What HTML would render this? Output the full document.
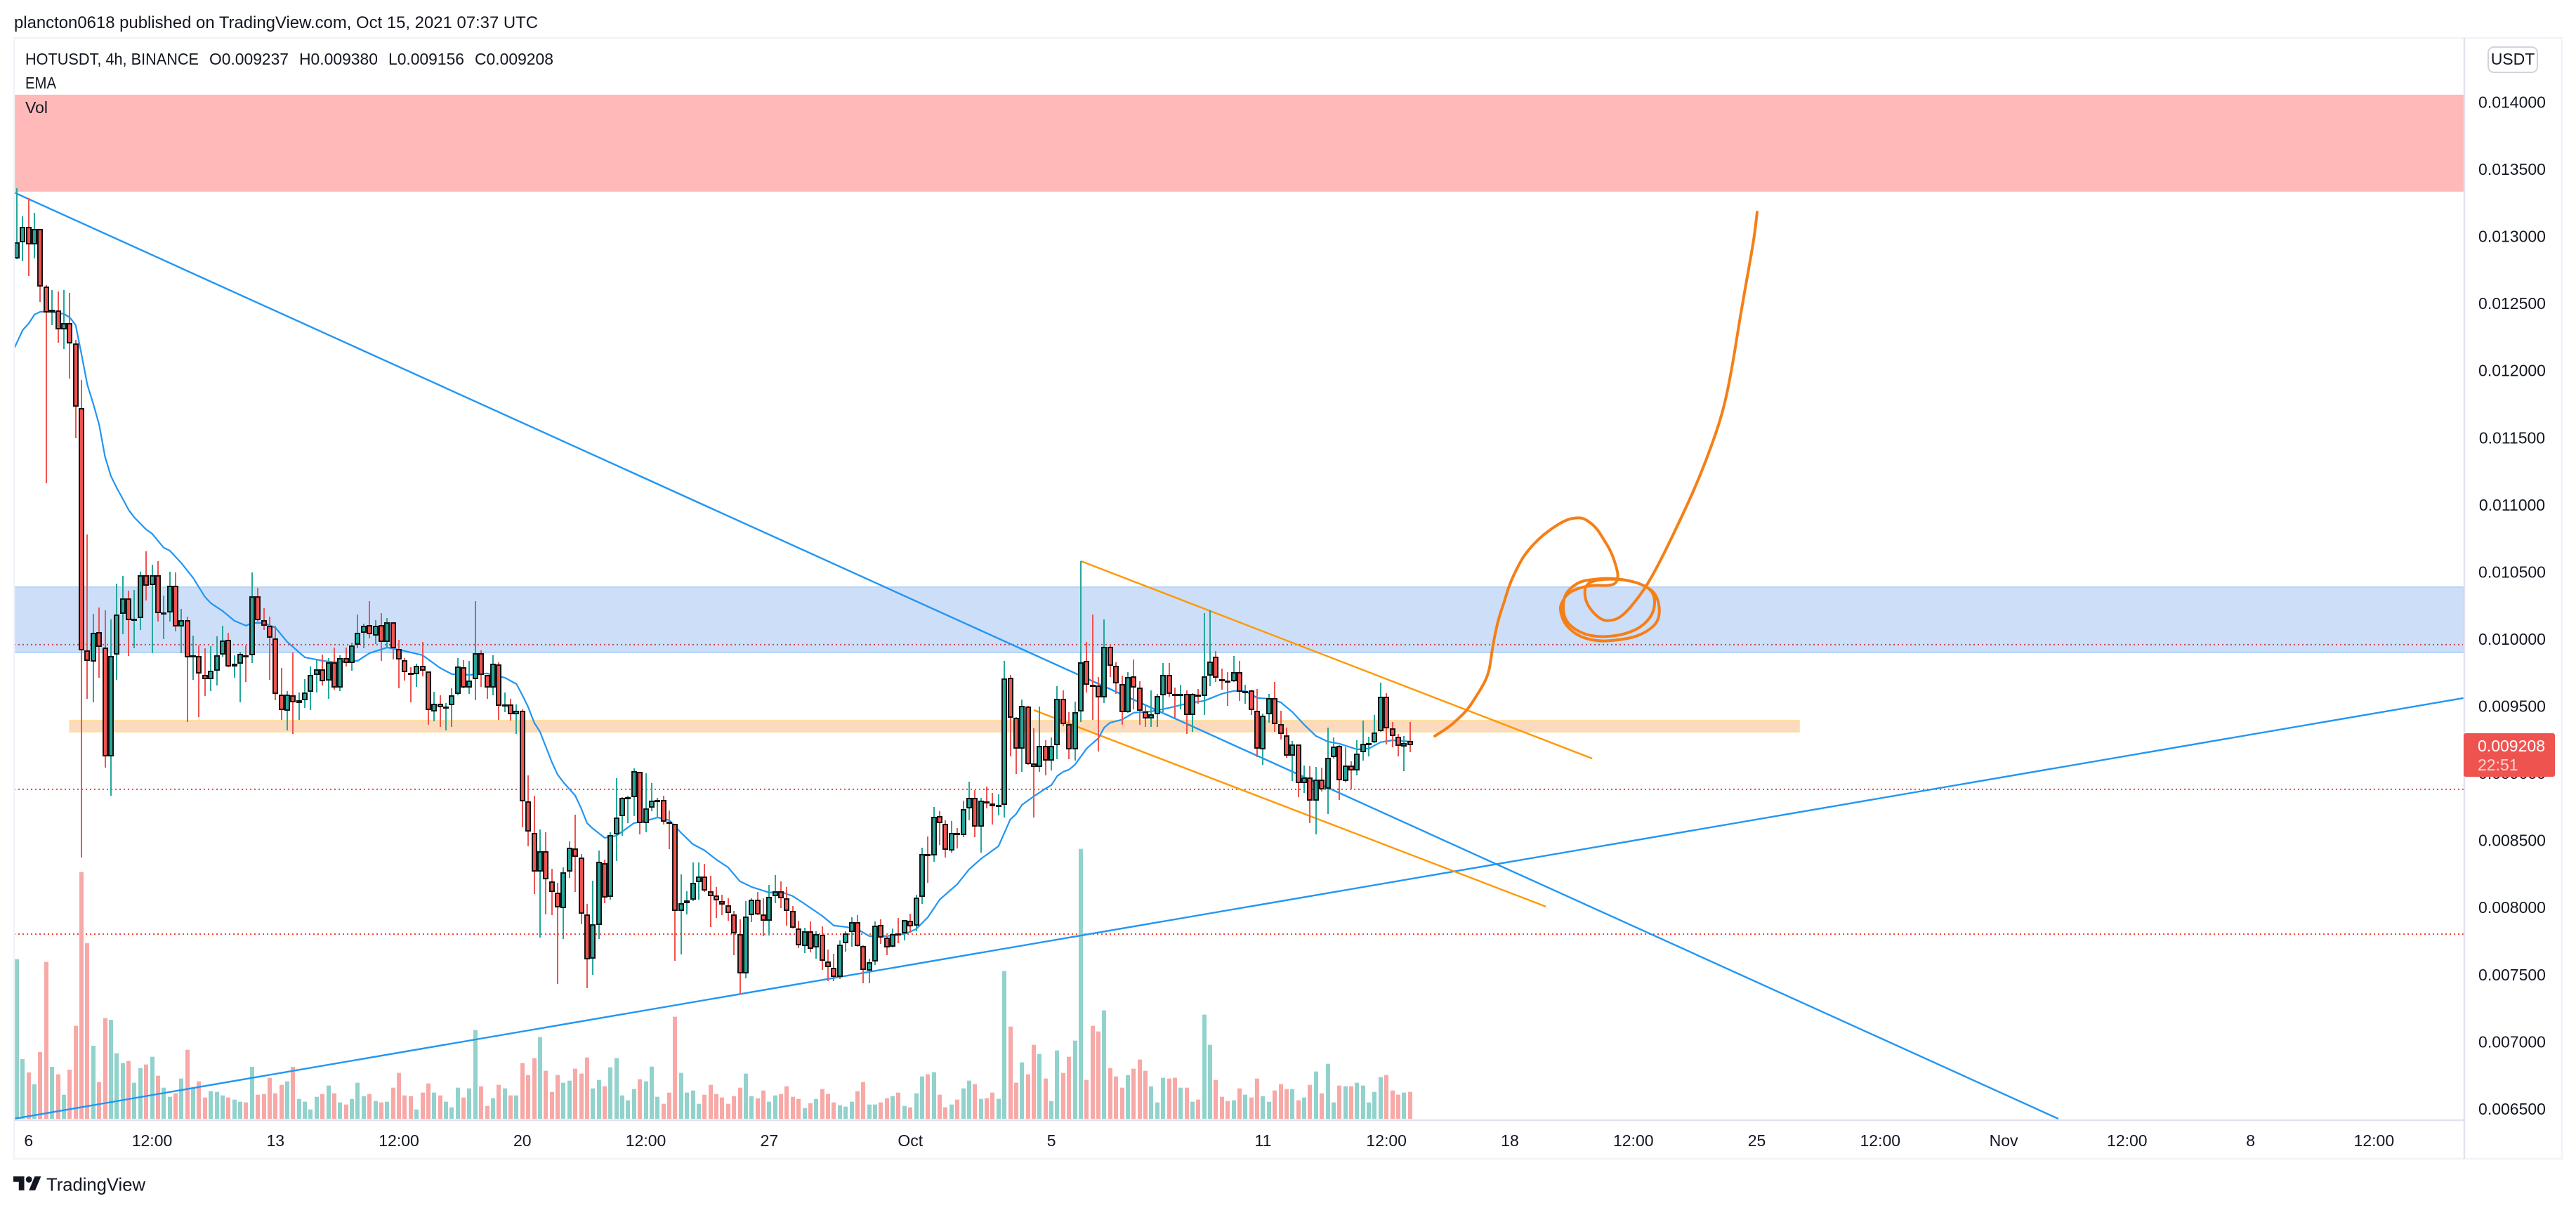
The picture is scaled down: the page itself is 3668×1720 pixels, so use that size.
<!DOCTYPE html>
<html lang="en">
<head>
<meta charset="utf-8">
<title>HOTUSDT 4h chart</title>
<style>
html,body{margin:0;padding:0;background:#fff;width:3668px;height:1720px;overflow:hidden}
svg{display:block}
text{font-family:"Liberation Sans",sans-serif;fill:#131722}
</style>
</head>
<body>
<svg id="chart" xmlns="http://www.w3.org/2000/svg" width="3668" height="1720" viewBox="0 0 3668 1720">
  <defs><clipPath id="plot-clip"><rect x="21" y="55" width="3487" height="1539"/></clipPath></defs>
  <rect x="0" y="0" width="3668" height="1720" fill="#ffffff"/>
  <text x="20" y="40" font-size="24" textLength="746" lengthAdjust="spacingAndGlyphs">plancton0618 published on TradingView.com, Oct 15, 2021 07:37 UTC</text>
  <g id="plot" clip-path="url(#plot-clip)"></g>
  <path id="brush" fill="none" stroke="#f57f17" stroke-width="4" stroke-linejoin="round" stroke-linecap="round" data-points="2043,1048 2061,1037 2077,1023 2090,1010 2103,990 2115,970 2121,953 2124,930 2128,907 2134,880 2142,857 2149,833 2161,807 2172,788 2191,767 2210,752 2230,740 2245,737 2256,738 2272,750 2283,767 2295,787 2303,812 2304,823 2300,832 2287,834 2268,833 2249,837 2233,844 2224,857 2221,867 2226,885 2237,898 2253,908 2276,913 2298,912 2325,908 2344,900 2360,887 2364,868 2358,845 2341,833 2318,826 2291,823 2268,825 2249,828 2233,840 2226,853 2226,877 2237,893 2260,905 2287,907 2314,903 2337,893 2352,877 2357,860 2354,843 2341,833 2318,826 2291,824 2268,827 2260,832 2256,840 2258,857 2268,872 2281,883 2293,884 2306,880 2320,867 2341,840 2360,807 2388,750 2417,687 2440,627 2455,580 2467,520 2478,450 2490,383 2498,337 2502,302"/>
  <rect x="20" y="54" width="3628" height="1596" fill="none" stroke="#f0f3fa" stroke-width="2.5"/>
  <line x1="3509" y1="54" x2="3509" y2="1650" stroke="#e0e3eb" stroke-width="2.5"/>
  <line x1="20" y1="1595" x2="3509" y2="1595" stroke="#e0e3eb" stroke-width="2.5"/>
  <g id="price-axis"></g>
  <g id="time-axis"></g>
  <rect x="3543" y="67" width="70" height="36" rx="8" fill="#ffffff" stroke="#d1d4dc" stroke-width="2"/>
  <text x="3578" y="92" font-size="23" text-anchor="middle">USDT</text>
  <rect x="3508" y="1044" width="130" height="62" rx="3" fill="#ef5350"/>
  <text x="3528" y="1070" font-size="23" textLength="96" style="fill:#ffffff">0.009208</text>
  <text x="3528" y="1097" font-size="23" style="fill:#fbd4d3">22:51</text>
  <g>
    <text x="36" y="92" font-size="23" textLength="247" lengthAdjust="spacingAndGlyphs">HOTUSDT, 4h, BINANCE</text>
    <text x="298" y="92" font-size="23" textLength="113" lengthAdjust="spacingAndGlyphs">O0.009237</text>
    <text x="426" y="92" font-size="23" textLength="112" lengthAdjust="spacingAndGlyphs">H0.009380</text>
    <text x="553" y="92" font-size="23" textLength="108" lengthAdjust="spacingAndGlyphs">L0.009156</text>
    <text x="676" y="92" font-size="23" textLength="112" lengthAdjust="spacingAndGlyphs">C0.009208</text>
    <text x="36" y="126" font-size="23" textLength="44" lengthAdjust="spacingAndGlyphs">EMA</text>
    <text x="36" y="161" font-size="23" textLength="32" lengthAdjust="spacingAndGlyphs">Vol</text>
  </g>
  <g transform="translate(19 1670.5)">
    <path transform="scale(1.11)" fill="#131722" d="M14 22H7V11H0V4h14v18zM28 22h-8l7.5-18h8L28 22zM20 4a4 4 0 1 1 0 8 4 4 0 0 1 0-8z"/>
    <text x="47" y="25" font-size="26" textLength="141" lengthAdjust="spacingAndGlyphs">TradingView</text>
  </g>
</svg>
<script>
// Prices in millionths of a USDT; one entry per 4h bar.
const openPrices = [
12833,12954,13069,12938,13053,12624,12431,12446,12305,12352,
12201,11719,9914,9830,10050,9935,9124,9883,10186,10301,
10139,10155,10474,10400,10474,10191,10197,10395,10092,10139,
9872,9872,9731,9700,9763,9883,9993,9794,9815,9878,
9878,10317,10139,10097,10003,9585,9464,9579,9522,9543,
9605,9731,9773,9689,9825,9637,9857,9820,9956,10045,
10102,10024,10102,9977,10123,9925,9841,9747,9736,9799,
9757,9459,9517,9490,9506,9590,9789,9637,9700,9893,
9731,9637,9810,9501,9511,9438,9464,8789,8554,8266,
8418,8193,8109,7994,8266,8439,8371,7947,7618,7869,
8329,8078,8543,8679,8816,8821,9009,8627,8742,8795,
8800,8638,8622,7973,8031,8057,8187,8229,8120,8088,
8047,8015,7947,7800,7507,7942,8057,7947,7900,8083,
8120,8067,7973,7842,7711,7821,7700,7795,7597,7550,
7481,7732,7816,7889,7711,7529,7597,7869,7774,7706,
7806,7806,7900,7863,8078,8397,8387,8679,8622,8423,
8554,8538,8737,8816,8601,8789,8774,8758,8763,9710,
9412,9182,9496,9072,9046,9203,9093,9208,9553,9365,
9177,9459,9836,9658,9653,9564,9940,9799,9663,9454,
9720,9637,9459,9407,9438,9579,9731,9590,9585,9590,
9433,9585,9574,9726,9867,9700,9689,9684,9752,9606,
9616,9464,9177,9438,9558,9365,9281,9129,9213,8925,
8967,8795,8951,8883,9119,9203,8941,9056,9019,9156,
9218,9229,9313,9569,9334,9271,9197,9237];
const highPrices = [
13356,13147,13284,13173,13053,12635,12598,12587,12598,12577,
12227,11929,10777,10186,10233,10212,10144,10411,10469,10359,
10364,10500,10652,10553,10579,10322,10500,10495,10223,10165,
10024,9951,9930,9946,10019,10097,10045,9878,9904,9951,
10495,10380,10228,10165,10097,9783,9611,9899,9600,9700,
9794,9846,9883,9857,9935,9878,9935,9972,10181,10113,
10280,10139,10191,10155,10123,9993,9857,9789,9815,9977,
9757,9605,9579,9522,9632,9857,9841,9836,10280,9914,
9731,9878,9825,9600,9553,9511,9475,8983,8831,8580,
8559,8287,8182,8297,8491,8690,8397,8025,8198,8423,
8355,8559,8962,8821,8831,9035,9009,8999,8925,8816,
8831,8721,8622,8245,8120,8334,8334,8324,8234,8151,
8094,8067,7973,7910,8047,8067,8114,8067,8167,8240,
8193,8151,8010,7900,7848,7895,7821,7858,7685,7654,
7753,7821,7926,7942,7716,7618,7895,7910,7790,7842,
7921,7905,7952,8094,8444,8528,8747,8716,8648,8643,
8590,8795,8936,8873,8816,8899,8852,8842,9836,9731,
9417,9548,9501,9334,9496,9245,9265,9648,9616,9454,
9532,10579,9977,10181,9715,10144,9961,9825,9726,9752,
9846,9684,9501,9616,9590,9820,9820,9637,9658,9616,
9595,9627,10191,10212,9909,9778,9752,9872,9836,9658,
9621,9627,9443,9590,9679,9464,9339,9239,9213,9056,
9051,9045,9040,9339,9265,9208,9192,9087,9245,9391,
9270,9433,9674,9595,9380,9292,9276,9380];
const lowPrices = [
12825,12813,12703,12833,12509,11159,12337,12206,12159,11939,
11494,8371,9553,9527,9710,9040,8831,9695,10034,9872,
9930,10066,10286,9893,10129,9998,10129,10055,9893,9380,
9695,9417,9574,9611,9653,9867,9789,9710,9527,9679,
9820,10129,10066,9695,9543,9396,9318,9292,9396,9485,
9469,9600,9653,9553,9621,9611,9794,9763,9930,9930,
10003,9961,9836,9940,9846,9632,9689,9527,9642,9720,
9360,9386,9344,9318,9344,9579,9632,9590,9543,9642,
9553,9579,9396,9454,9391,9292,8596,8455,8099,7774,
7947,7942,7429,7764,8219,8114,7874,7397,7497,7764,
8031,8057,8345,8533,8627,8679,8543,8559,8716,8664,
8617,8434,7602,7649,7947,8047,8057,8114,7853,7921,
7942,7900,7644,7350,7471,7889,7942,7785,7790,8031,
7994,7863,7842,7695,7659,7664,7618,7534,7450,7450,
7465,7670,7706,7706,7434,7434,7570,7727,7644,7700,
7732,7753,7811,7821,8025,8182,8339,8465,8371,8407,
8439,8523,8648,8523,8407,8737,8617,8685,8669,9124,
8993,9009,9061,8669,9009,8983,9019,9103,9349,9103,
9093,9380,9600,9396,9161,9522,9715,9590,9360,9449,
9475,9360,9344,9344,9344,9454,9569,9412,9475,9292,
9307,9517,9433,9647,9679,9621,9501,9679,9538,9517,
9433,9119,9061,9375,9307,9250,9114,8941,8821,8852,
8627,8543,8862,8695,9108,8800,8930,8878,8983,9093,
9124,9223,9307,9213,9192,9124,9014,9156];
const closePrices = [
12954,13069,12938,13053,12624,12431,12452,12305,12352,12201,
11730,9914,9836,10045,9940,9124,9872,10181,10301,10139,
10150,10474,10395,10474,10191,10196,10395,10092,10139,9862,
9877,9742,9700,9763,9878,9987,9794,9815,9888,9873,
10317,10139,10097,10008,9590,9469,9585,9527,9543,9600,
9731,9773,9684,9825,9637,9857,9820,9951,10045,10097,
10034,10097,9977,10123,9930,9846,9752,9742,9799,9763,
9469,9517,9490,9496,9579,9794,9637,9689,9893,9731,
9637,9815,9501,9511,9438,9464,8789,8564,8266,8418,
8209,8114,8000,8261,8444,8376,7952,7612,7874,8339,
8073,8538,8669,8816,8821,9014,8627,8737,8795,8800,
8638,8633,7973,8031,8052,8182,8229,8125,8083,8052,
8020,7957,7806,7507,7931,8057,7947,7900,8078,8120,
8067,7973,7848,7716,7821,7690,7800,7602,7555,7481,
7722,7806,7889,7711,7534,7591,7863,7774,7700,7800,
7801,7905,7858,8073,8397,8392,8674,8627,8428,8554,
8549,8732,8816,8601,8795,8784,8753,8763,9705,9412,
9182,9501,9067,9046,9203,9093,9203,9553,9365,9177,
9454,9825,9658,9653,9564,9940,9799,9668,9454,9715,
9637,9464,9407,9438,9574,9731,9590,9585,9590,9433,
9590,9579,9720,9830,9710,9695,9684,9752,9605,9611,
9469,9182,9428,9558,9365,9292,9129,9213,8925,8967,
8795,8951,8878,9114,9197,8946,9056,9019,9145,9218,
9223,9302,9569,9334,9276,9203,9223,9208];
// Volume per bar, arbitrary units.
const volumes = [
682,255,198,148,285,670,222,190,103,210,
397,1054,750,312,157,430,423,280,238,247,
154,217,232,265,184,133,94,109,172,295,
133,160,91,118,115,100,91,82,73,70,
222,103,106,175,109,145,160,222,85,73,
40,94,106,142,109,70,61,85,154,97,
106,76,70,73,133,196,100,97,40,112,
151,112,100,73,49,133,91,130,379,139,
55,88,145,130,100,100,238,187,259,349,
205,115,187,154,163,214,193,262,130,166,
139,220,259,100,79,127,169,160,223,94,
64,112,436,196,112,121,64,103,145,106,
91,64,97,133,193,97,88,121,73,100,
106,139,94,85,46,67,85,127,106,70,
58,52,73,118,157,61,61,70,88,97,
112,55,49,109,181,190,199,103,49,61,
82,130,163,148,85,88,112,85,631,394,
154,241,190,316,277,172,76,292,196,265,
334,1153,166,397,373,463,217,181,133,187,
214,253,205,139,70,175,172,175,133,133,
73,82,445,316,166,94,76,79,130,103,
91,172,97,73,121,148,127,127,79,91,
145,202,109,235,70,142,139,139,154,142,
70,115,178,187,121,103,112,115];
// EMA read at selected bars.
const emaBars = [-0.5,1,2,3,4,6,8,9,10,11,12,13,14,15,16,17,18,19,20,22,23,25,26,28,30,32,33,35,37,39,40,42,44,46,49,52,54,58,60,63,66,69,72,74,77,80,83,85,86,87,88,89,91,92,93,95,96,97,98,100,102,105,107,109,111,113,115,117,119,121,123,125,128,130,132,134,137,139,141,143,145,148,151,153,155,157,160,162,164,167,169,170,171,173,175,176,177,178,179,180,182,184,185,186,188,190,193,196,199,202,205,207,209,211,213,215,217,219,221,223,225,228,230,232,234,237];
const emaValues = [12159,12300,12347,12415,12436,12436,12420,12394,12337,12117,11892,11751,11594,11358,11212,11123,11044,10961,10903,10814,10783,10678,10657,10563,10453,10312,10265,10207,10134,10097,10118,10118,10082,9977,9862,9836,9825,9836,9893,9935,9909,9878,9783,9736,9731,9742,9710,9663,9579,9490,9375,9307,9082,8988,8930,8831,8737,8627,8585,8517,8533,8627,8643,8669,8648,8554,8470,8423,8355,8297,8193,8151,8109,8114,8083,8025,7936,7863,7853,7837,7785,7785,7800,7837,7926,8057,8172,8282,8360,8455,8653,8695,8763,8826,8884,8910,8978,9009,9025,9061,9182,9260,9339,9375,9397,9449,9459,9485,9517,9538,9590,9611,9611,9559,9553,9527,9454,9360,9276,9234,9218,9176,9182,9229,9244,9234];
const priceTicks = [14000,13500,13000,12500,12000,11500,11000,10500,10000,9500,9000,8500,8000,7500,7000,6500];
const timeTickBars = [2,23,44,65,86,107,128,152,176,212,233,254,275,296,317,338,359,380,401];
const timeTickLabels = ['6','12:00','13','12:00','20','12:00','27','Oct','5','11','12:00','18','12:00','25','12:00','Nov','12:00','8','12:00'];
const dottedLevels = [9956,8878,7800];
const trendStartBars = [-0.48,-0.48,181,173];
const trendStartPrices = [13325,6424,10579,9469];
const trendEndBars = [347.3,416.2,268,260.1];
const trendEndPrices = [6424,9558,9108,8005];

const NS = 'http://www.w3.org/2000/svg';
const plot = document.getElementById('plot');
const priceAxis = document.getElementById('price-axis');
const timeAxis = document.getElementById('time-axis');
const xOf = i => 24 + 8.37 * i;
const yOf = p => 145 + (14000 - p) * 0.19112;
const volHeight = v => v / 3;
const VOL_BASE = 1593;
const PLOT_LEFT = 20, PLOT_RIGHT = 3508;

function make(tag, parent, attrs, text) {
  const el = document.createElementNS(NS, tag);
  for (const k in attrs) el.setAttribute(k, attrs[k]);
  if (text !== undefined) el.textContent = text;
  parent.appendChild(el);
  return el;
}

// Zones and level lines, in price space
const pink = make('rect', plot, {x: PLOT_LEFT, y: yOf(14053), width: PLOT_RIGHT - PLOT_LEFT, height: yOf(13331) - yOf(14053), fill: '#ffb9b9'});



dottedLevels.forEach(function (lvl) {
  const d = make('line', plot, {x1: PLOT_LEFT, x2: PLOT_RIGHT, y1: yOf(lvl), y2: yOf(lvl), stroke: '#f44336', 'stroke-width': 2, 'stroke-dasharray': '2 4'});
  
  
});

const blueZone = make('rect', plot, {x: PLOT_LEFT, y: yOf(10385), width: PLOT_RIGHT - PLOT_LEFT, height: yOf(9898) - yOf(10385), fill: 'rgba(5,90,220,0.2)', stroke: '#b3d4fb', 'stroke-width': 2});



const orangeZone = make('rect', plot, {x: xOf(9), y: yOf(9391), width: xOf(303.2) - xOf(9), height: yOf(9307) - yOf(9391), fill: 'rgba(241,131,41,0.3)', stroke: '#fde0a0', 'stroke-width': 2});



// Volume bars
volumes.forEach(function (v, i) {
  const up = closePrices[i] >= openPrices[i];
  const h = volHeight(v);
  const b = make('rect', plot, {x: Math.round(xOf(i)) - 3, y: VOL_BASE - h, width: 6, height: h, fill: up ? '#92d2cc' : '#f7a9a7'});
  
  
});

// Trend and channel lines
const trendColors = ['#2196f3','#2196f3','#ff9800','#ff9800'];
const trendNames = ['descending-trendline','ascending-trendline','channel-upper-line','channel-lower-line'];
trendStartBars.forEach(function (b, k) {
  const t = make('line', plot, {x1: xOf(b), y1: yOf(trendStartPrices[k]), x2: xOf(trendEndBars[k]), y2: yOf(trendEndPrices[k]), stroke: trendColors[k], 'stroke-width': 2.4});
  
  
});

// EMA line
const emaPts = emaBars.map(function (b, k) { return xOf(b).toFixed(1) + ',' + yOf(emaValues[k]).toFixed(1); }).join(' ');
const ema = make('polyline', plot, {points: emaPts, fill: 'none', stroke: '#2196f3', 'stroke-width': 2.2, 'stroke-linejoin': 'round'});



// Candles
openPrices.forEach(function (o, i) {
  const c = closePrices[i];
  const up = c >= o;
  const col = up ? '#26a69a' : '#ef5350';
  const cx = Math.round(xOf(i));
  const wick = make('rect', plot, {x: cx - 1, y: Math.round(yOf(highPrices[i])), width: 2, height: Math.max(1, Math.round(yOf(lowPrices[i]) - yOf(highPrices[i]))), fill: col});
  
  
  const top = Math.round(yOf(Math.max(o, c)));
  const bot = Math.round(yOf(Math.min(o, c)));
  const body = make('rect', plot, {x: cx - 3, y: top + 1, width: 6, height: Math.max(1, bot - top - 2), fill: col, stroke: '#131313', 'stroke-width': 2});
  
  
});

// Axes
priceTicks.forEach(function (p) {
  const t = make('text', priceAxis, {x: 3577, y: yOf(p) + 8.5, 'font-size': 23, 'text-anchor': 'middle'}, (p / 1e6).toFixed(6));
  
  
});
timeTickBars.forEach(function (b, k) {
  const t = make('text', timeAxis, {x: xOf(b), y: 1632, 'font-size': 23, 'text-anchor': 'middle'}, timeTickLabels[k]);
  
  
});

// Smooth the freehand brush stroke through its anchor points
const brush = document.getElementById('brush');
const anchors = brush.getAttribute('data-points').split(' ').map(function (s) { return s.split(',').map(Number); });
let brushPath = 'M' + anchors[0][0] + ' ' + anchors[0][1];
for (let k = 1; k < anchors.length - 1; k++) {
  const mx = (anchors[k][0] + anchors[k + 1][0]) / 2;
  const my = (anchors[k][1] + anchors[k + 1][1]) / 2;
  brushPath += ' Q' + anchors[k][0] + ' ' + anchors[k][1] + ' ' + mx + ' ' + my;
}
const lastAnchor = anchors[anchors.length - 1];
brushPath += ' L' + lastAnchor[0] + ' ' + lastAnchor[1];
brush.setAttribute('d', brushPath);
</script>
</body>
</html>
